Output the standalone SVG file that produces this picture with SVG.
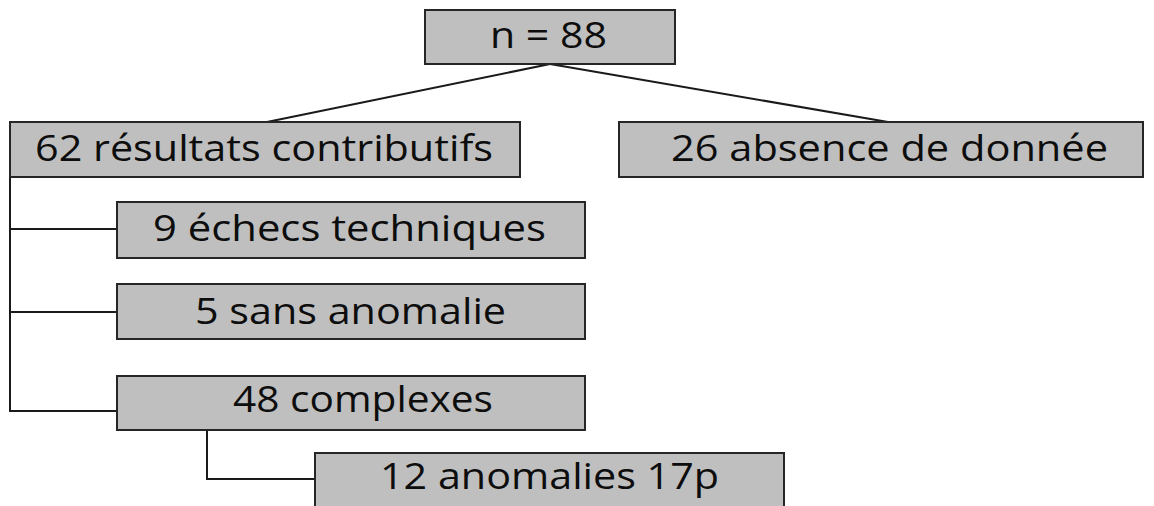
<svg xmlns="http://www.w3.org/2000/svg" width="1154" height="506" viewBox="0 0 1154 506">
<style>
.box{fill:#bfbfbf;stroke:#262626;stroke-width:2}
.lbl{font-family:"Open Sans","DejaVu Sans",sans-serif;font-size:36px;fill:#0d0d0d;text-anchor:start}
.con{fill:none;stroke:#1a1a1a;stroke-width:2}
</style>
<rect width="1154" height="506" fill="#fff"/>
<g id="connectors">
<line class="con" x1="550" y1="64" x2="267" y2="122"/>
<line class="con" x1="550" y1="64" x2="888" y2="122"/>
<polyline class="con" points="10,177 10,411 117,411"/>
<line class="con" x1="10" y1="229" x2="117" y2="229"/>
<line class="con" x1="10" y1="312" x2="117" y2="312"/>
<polyline class="con" points="207,430 207,479 315,479"/>
</g>
<g id="n-root"><rect class="box" x="425" y="10" width="250" height="54"/><text class="lbl" x="490" y="48" textLength="117" lengthAdjust="spacingAndGlyphs">n = 88</text></g>
<g id="n-contrib"><rect class="box" x="10" y="122" width="510" height="55"/><text class="lbl" x="35" y="161" textLength="458" lengthAdjust="spacingAndGlyphs">62 résultats contributifs</text></g>
<g id="n-absence"><rect class="box" x="619" y="122" width="524" height="55"/><text class="lbl" x="671" y="161" textLength="437" lengthAdjust="spacingAndGlyphs">26 absence de donnée</text></g>
<g id="n-echecs"><rect class="box" x="117" y="202" width="468" height="56"/><text class="lbl" x="153" y="241" textLength="393" lengthAdjust="spacingAndGlyphs">9 échecs techniques</text></g>
<g id="n-sans"><rect class="box" x="117" y="284" width="468" height="55"/><text class="lbl" x="195" y="324" textLength="311" lengthAdjust="spacingAndGlyphs">5 sans anomalie</text></g>
<g id="n-complexes"><rect class="box" x="117" y="376" width="468" height="54"/><text class="lbl" x="233" y="412" textLength="260" lengthAdjust="spacingAndGlyphs">48 complexes</text></g>
<g id="n-17p"><rect class="box" x="315" y="453" width="469" height="60"/><text class="lbl" x="380" y="489" textLength="339" lengthAdjust="spacingAndGlyphs">12 anomalies 17p</text></g>
</svg>
